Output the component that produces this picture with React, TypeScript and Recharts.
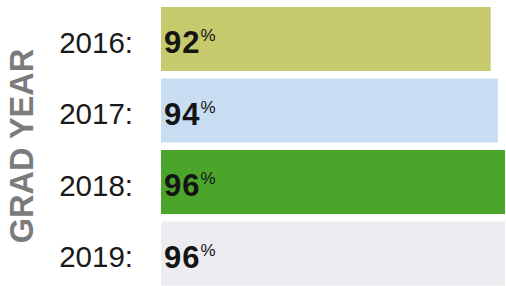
import { Bar, BarChart, Cell, LabelList, XAxis, YAxis } from "recharts";

const years = ["2016", "2017", "2018", "2019"];
const rates = [92, 94, 96, 96];
const colors = ["#c6c96c", "#c8ddf1", "#4ba52b", "#ededf1"];

const data = years.map((year, i) => ({ year, rate: rates[i] }));

const FONT = "'Liberation Sans', Arial, sans-serif";

function YearTick({ x, y, payload }: any) {
  return (
    <text x={x - 20} y={y + 14} textAnchor="end" fontFamily={FONT} fontSize={29.5} fill="#1a1a1a">
      {payload.value}:
    </text>
  );
}

function AxisTitle({ viewBox }: any) {
  const cx = viewBox.x + 22;
  const cy = viewBox.y + viewBox.height / 2;
  return (
    <text
      x={cx}
      y={cy}
      transform={`rotate(-90, ${cx}, ${cy})`}
      textAnchor="middle"
      dominantBaseline="central"
      fontFamily={FONT}
      fontWeight="bold"
      fontSize={32.5}
      fill="#7b7b7b"
    >
      GRAD YEAR
    </text>
  );
}

function ValueLabel({ x, y, height, value }: any) {
  return (
    <text x={x + 3} y={y + height / 2 + 14} fontFamily={FONT} fill="#141414">
      <tspan fontWeight="bold" fontSize={31} letterSpacing={1}>
        {value}
      </tspan>
      <tspan fontSize={17} dy={-12}>%</tspan>
    </text>
  );
}

export default function App() {
  return (
    <div style={{ position: "absolute", left: 0, top: 0, background: "#fff" }}>
      <BarChart
        width={506}
        height={292}
        data={data}
        layout="vertical"
        margin={{ top: 3, right: 1, bottom: 3, left: 0 }}
        barCategoryGap={0}
      >
        <XAxis type="number" domain={[0, 96]} hide />
        <YAxis
          type="category"
          dataKey="year"
          width={161}
          axisLine={false}
          tickLine={false}
          tick={<YearTick />}
          label={<AxisTitle />}
        />
        <Bar dataKey="rate" barSize={64} isAnimationActive={false}>
          {data.map((d, i) => (
            <Cell key={d.year} fill={colors[i]} />
          ))}
          <LabelList dataKey="rate" content={<ValueLabel />} />
        </Bar>
      </BarChart>
    </div>
  );
}
